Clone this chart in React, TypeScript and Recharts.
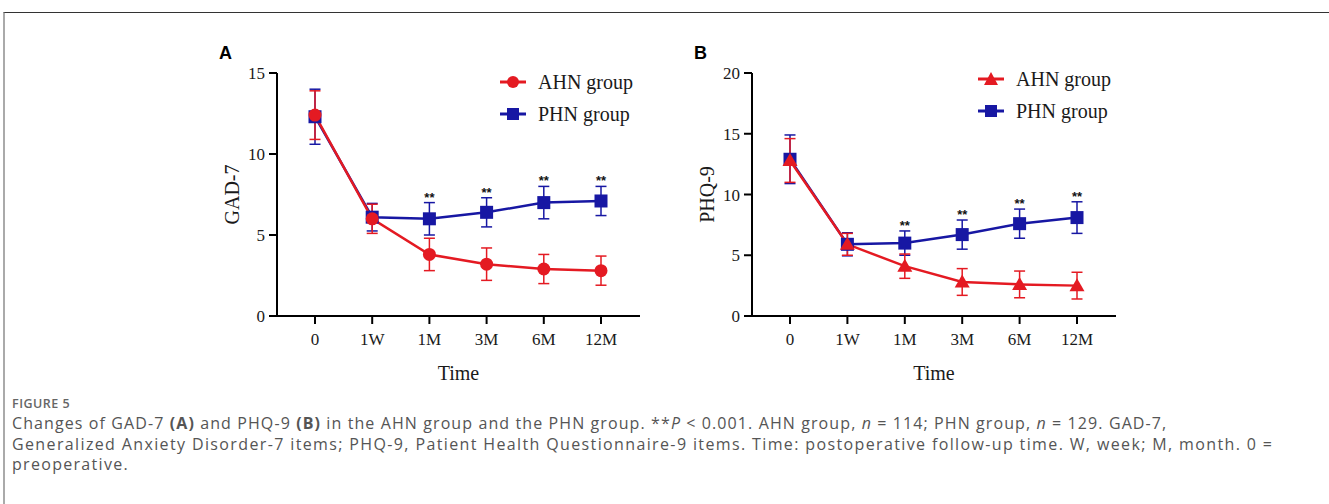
import React from "react";
import {
  LineChart,
  Line,
  XAxis,
  YAxis,
  ErrorBar,
  Legend,
} from "recharts";

const timePoints = ["0", "1W", "1M", "3M", "6M", "12M"];
const sigMarks = ["", "", "**", "**", "**", "**"];

const gadAhn = [12.4, 6.0, 3.8, 3.2, 2.9, 2.8];
const gadAhnErr = [1.5, 0.9, 1.0, 1.0, 0.9, 0.9];
const gadPhn = [12.3, 6.1, 6.0, 6.4, 7.0, 7.1];
const gadPhnErr = [1.7, 0.85, 1.0, 0.9, 1.0, 0.9];

const phqAhn = [12.8, 5.9, 4.1, 2.8, 2.6, 2.5];
const phqAhnErr = [1.8, 0.9, 1.0, 1.1, 1.1, 1.1];
const phqPhn = [12.9, 5.9, 6.0, 6.7, 7.6, 8.1];
const phqPhnErr = [2.0, 0.95, 1.0, 1.2, 1.2, 1.3];

const gadTicks = [0, 5, 10, 15];
const phqTicks = [0, 5, 10, 15, 20];

const RED = "#e41a22";
const BLUE = "#1717a3";
const SERIF = "'Liberation Serif', 'Times New Roman', serif";

function buildRows(ahn: number[], ahnErr: number[], phn: number[], phnErr: number[]) {
  return timePoints.map((t, i) => ({
    time: t,
    ahn: ahn[i],
    ahnErr: ahnErr[i],
    phn: phn[i],
    phnErr: phnErr[i],
    star: sigMarks[i] ? phn[i] + phnErr[i] : null,
    mark: sigMarks[i],
  }));
}

const Circle = (props: any) => {
  const { cx, cy } = props;
  if (cx == null || cy == null) return null;
  return <circle cx={cx} cy={cy} r={6.5} fill={RED} />;
};

const Square = (props: any) => {
  const { cx, cy } = props;
  if (cx == null || cy == null) return null;
  return <rect x={cx - 6.5} y={cy - 6.5} width={13} height={13} fill={BLUE} />;
};

const Triangle = (props: any) => {
  const { cx, cy } = props;
  if (cx == null || cy == null) return null;
  return (
    <polygon
      points={`${cx},${cy - 7.5} ${cx - 7.5},${cy + 5.5} ${cx + 7.5},${cy + 5.5}`}
      fill={RED}
    />
  );
};

function LegendIcon({ shape, color }: { shape: string; color: string }) {
  return (
    <svg width={26} height={16} style={{ marginRight: 12 }}>
      <line x1={0} y1={8} x2={26} y2={8} stroke={color} strokeWidth={3} />
      {shape === "circle" && <circle cx={13} cy={8} r={6} fill={color} />}
      {shape === "square" && <rect x={7} y={2} width={12} height={12} fill={color} />}
      {shape === "triangle" && <polygon points="13,1 6,14 20,14" fill={color} />}
    </svg>
  );
}

interface PanelProps {
  letter: string;
  yLabel: string;
  ahn: number[];
  ahnErr: number[];
  phn: number[];
  phnErr: number[];
  ticks: number[];
  ahnShape: string;
  left: number;
  marginLeft: number;
  marginRight: number;
  legendLeft: number;
  legendTop: number;
}

function Panel(p: PanelProps) {
  const rows = buildRows(p.ahn, p.ahnErr, p.phn, p.phnErr);
  const yMax = p.ticks[p.ticks.length - 1];
  const tickStyle = { fontFamily: SERIF, fontSize: 17, fill: "#1a1a1a" };

  const renderStar = (props: any) => {
    const { x, y, index } = props;
    if (!rows[index] || !rows[index].mark || y == null) return null;
    return (
      <text
        key={`s-${index}`}
        x={x}
        y={y - 1}
        textAnchor="middle"
        fontFamily="'Liberation Sans', Arial, sans-serif"
        fontWeight="bold"
        fontSize={13}
        fill="#111"
      >
        {rows[index].mark}
      </text>
    );
  };

  return (
    <div style={{ position: "absolute", left: p.left, top: 40, width: 460, height: 360 }}>
      <div
        style={{
          position: "absolute",
          left: p.letter === "A" ? 19 : 14,
          top: 3,
          fontFamily: "'Liberation Sans', Arial, sans-serif",
          fontWeight: "bold",
          fontSize: 18,
          color: "#000",
        }}
      >
        {p.letter}
      </div>
      <LineChart
        width={460}
        height={360}
        data={rows}
        margin={{ top: 33, right: p.marginRight, bottom: 54, left: p.marginLeft }}
      >
        <XAxis
          dataKey="time"
          padding={{ left: 38, right: 39 }}
          stroke="#000"
          strokeWidth={2}
          tickSize={8}
          tickMargin={9}
          tick={tickStyle}
          height={30}
          label={{
            content: (lp: any) => {
              const vb = lp.viewBox;
              return (
                <text
                  x={vb.x + vb.width / 2}
                  y={vb.y + 64}
                  textAnchor="middle"
                  fontFamily={SERIF}
                  fontSize={20}
                  fill="#1a1a1a"
                >
                  Time
                </text>
              );
            },
          }}
        />
        <YAxis
          domain={[0, yMax]}
          ticks={p.ticks}
          interval={0}
          stroke="#000"
          strokeWidth={2}
          tickSize={8}
          tickMargin={4}
          tick={tickStyle}
          width={60}
          label={{
            content: (lp: any) => {
              const vb = lp.viewBox;
              const cx = vb.x + vb.width - 45;
              const cy = vb.y + vb.height / 2;
              return (
                <text
                  x={cx}
                  y={cy}
                  transform={`rotate(-90 ${cx} ${cy})`}
                  textAnchor="middle"
                  dominantBaseline="central"
                  fontFamily={SERIF}
                  fontSize={20}
                  fill="#1a1a1a"
                >
                  {p.yLabel}
                </text>
              );
            },
          }}
        />
        <Legend
          layout="vertical"
          align="center"
          verticalAlign="middle"
          wrapperStyle={{ position: "absolute", left: p.legendLeft, top: p.legendTop, width: "auto" }}
          content={() => (
            <div style={{ fontFamily: SERIF, fontSize: 20, color: "#1a1a1a", lineHeight: "32px" }}>
              <div style={{ display: "flex", alignItems: "center" }}>
                <LegendIcon shape={p.ahnShape} color={RED} />
                <span>AHN group</span>
              </div>
              <div style={{ display: "flex", alignItems: "center" }}>
                <LegendIcon shape="square" color={BLUE} />
                <span>PHN group</span>
              </div>
            </div>
          )}
        />
        <Line
          dataKey="phn"
          stroke={BLUE}
          strokeWidth={2.5}
          dot={<Square />}
          activeDot={false}
          isAnimationActive={false}
          legendType="none"
        >
          <ErrorBar dataKey="phnErr" direction="y" width={5.5} stroke={BLUE} strokeWidth={1.5} />
        </Line>
        <Line
          dataKey="ahn"
          stroke={RED}
          strokeWidth={2.5}
          dot={p.ahnShape === "circle" ? <Circle /> : <Triangle />}
          activeDot={false}
          isAnimationActive={false}
          legendType="none"
        >
          <ErrorBar dataKey="ahnErr" direction="y" width={5.5} stroke={RED} strokeWidth={1.5} />
        </Line>
        <Line
          dataKey="star"
          stroke="none"
          dot={false}
          activeDot={false}
          isAnimationActive={false}
          legendType="none"
          label={renderStar}
        />
      </LineChart>
    </div>
  );
}

const captionStyle: React.CSSProperties = {
  position: "absolute",
  left: 12,
  whiteSpace: "nowrap",
  fontFamily: "'Open Sans', 'Noto Sans', sans-serif",
  fontSize: 16,
  color: "#555",
  lineHeight: "21px",
};

export default function App() {
  return (
    <div style={{ position: "absolute", left: 0, top: 0, width: 1329, height: 504, background: "#fff", overflow: "hidden" }}>
      <div
        style={{
          position: "absolute",
          left: 3,
          top: 12,
          width: 1340,
          height: 500,
          borderTop: "1.5px solid #333",
          borderLeft: "2px solid #aaa",
        }}
      />
      <Panel
        letter="A"
        yLabel="GAD-7"
        ahn={gadAhn}
        ahnErr={gadAhnErr}
        phn={gadPhn}
        phnErr={gadPhnErr}
        ticks={gadTicks}
        ahnShape="circle"
        left={200}
        marginLeft={17}
        marginRight={20}
        legendLeft={300}
        legendTop={26}
      />
      <Panel
        letter="B"
        yLabel="PHQ-9"
        ahn={phqAhn}
        ahnErr={phqAhnErr}
        phn={phqPhn}
        phnErr={phqPhnErr}
        ticks={phqTicks}
        ahnShape="triangle"
        left={680}
        marginLeft={12}
        marginRight={24}
        legendLeft={298}
        legendTop={23}
      />
      <div
        style={{
          position: "absolute",
          left: 12,
          top: 398.5,
          height: 10,
          fontFamily: "'Open Sans', 'Noto Sans', sans-serif",
          fontSize: 12.5,
          lineHeight: "10px",
          fontWeight: 600,
          color: "#666",
          letterSpacing: 0.5,
        }}
      >
        FIGURE 5
      </div>
      <div style={{ ...captionStyle, top: 413, letterSpacing: 1.1 }}>
        Changes of GAD-7 <b>(A)</b> and PHQ-9 <b>(B)</b> in the AHN group and the PHN group. **<i>P</i> &lt; 0.001. AHN group, <i>n</i> = 114; PHN group, <i>n</i> = 129. GAD-7,
      </div>
      <div style={{ ...captionStyle, top: 433.5, letterSpacing: 1.37 }}>
        Generalized Anxiety Disorder-7 items; PHQ-9, Patient Health Questionnaire-9 items. Time: postoperative follow-up time. W, week; M, month. 0 =
      </div>
      <div style={{ ...captionStyle, top: 454, letterSpacing: 1.3 }}>preoperative.</div>
    </div>
  );
}
